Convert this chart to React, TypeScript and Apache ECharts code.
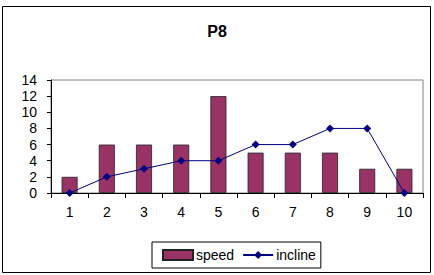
import React, { useEffect, useRef } from "react";
import * as echarts from "echarts";

const categories = ["1", "2", "3", "4", "5", "6", "7", "8", "9", "10"];
const speed = [2, 6, 6, 6, 12, 5, 5, 5, 3, 3];
const incline = [0, 2, 3, 4, 4, 6, 6, 8, 8, 0];
const title = "P8";

export default function App() {
  const ref = useRef<HTMLDivElement>(null);
  useEffect(() => {
    if (!ref.current) return;
    const chart = echarts.init(ref.current, undefined, { renderer: "svg" });
    const font = "Liberation Sans, Arial, sans-serif";
    chart.setOption({
      animation: false,
      backgroundColor: "#ffffff",
      textStyle: { fontFamily: font },
      title: {
        text: title,
        left: "center",
        top: 18,
        textStyle: { fontFamily: font, fontSize: 16, fontWeight: "bold", color: "#000" },
      },
      graphic: [
        {
          type: "rect",
          shape: { x: 2.5, y: 6.5, width: 428, height: 266 },
          style: { fill: "none", stroke: "#000", lineWidth: 1 },
          silent: true,
        },
      ],
      grid: {
        left: 51,
        top: 80,
        width: 372,
        height: 113,
        show: true,
        borderColor: "#808080",
        borderWidth: 1,
        backgroundColor: "transparent",
        containLabel: false,
      },
      legend: {
        top: 242,
        left: 152,
        orient: "horizontal",
        borderColor: "#000",
        borderWidth: 1,
        padding: [6, 5, 6, 10],
        itemGap: 8,
        itemWidth: 30,
        itemHeight: 10,
        textStyle: { fontFamily: font, fontSize: 14, color: "#000", padding: [0, 0, 0, -2] },
        data: [
          { name: "speed", icon: "rect" },
          { name: "incline" },
        ],
      },
      xAxis: {
        type: "category",
        data: categories,
        axisLine: { lineStyle: { color: "#000" } },
        axisTick: { show: true, alignWithLabel: false, length: 5, lineStyle: { color: "#000" } },
        axisLabel: { fontFamily: font, fontSize: 14, color: "#000", margin: 12 },
        splitLine: { show: false },
      },
      yAxis: {
        type: "value",
        min: 0,
        max: 14,
        interval: 2,
        axisLine: { show: true, lineStyle: { color: "#000" } },
        axisTick: { show: true, length: 4, lineStyle: { color: "#000" } },
        axisLabel: { fontFamily: font, fontSize: 14, color: "#000", margin: 14 },
        splitLine: { show: false },
      },
      series: [
        {
          name: "speed",
          type: "bar",
          data: speed,
          barWidth: "43%",
          itemStyle: { color: "#993366", borderColor: "#222", borderWidth: 0.8 },
        },
        {
          name: "incline",
          type: "line",
          data: incline,
          symbol: "diamond",
          symbolSize: 8,
          lineStyle: { color: "#000080", width: 1 },
          itemStyle: { color: "#000080" },
        },
      ],
    });
    return () => chart.dispose();
  }, []);
  return (
    <div
      ref={ref}
      style={{ position: "fixed", left: 0, top: 0, width: 434, height: 275 }}
    />
  );
}
